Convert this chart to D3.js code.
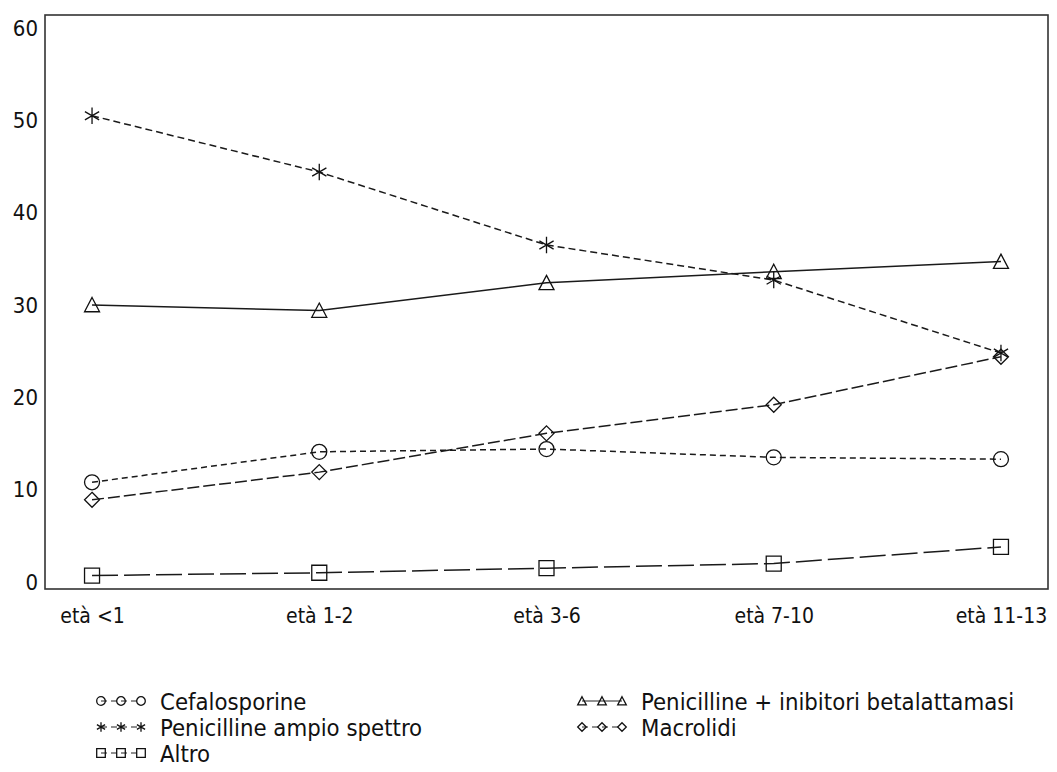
<!DOCTYPE html>
<html>
<head>
<meta charset="utf-8">
<script src="https://cdn.jsdelivr.net/npm/d3@7/dist/d3.min.js"></script>
<style>
  body { margin: 0; background: #fff; }
  text { font-family: "DejaVu Sans Condensed", "DejaVu Sans", sans-serif; font-stretch: condensed; fill: #111; }
</style>
</head>
<body>
<div id="chart"></div>
<script>
// categories and tick labels
var categories = ["età <1", "età 1-2", "età 3-6", "età 7-10", "età 11-13"];
var yTicks = [0, 10, 20, 30, 40, 50, 60];

// series values (percent)
var cefalosporine = [10.8, 14.1, 14.4, 13.5, 13.3];
var penAmpioSpettro = [50.5, 44.4, 36.5, 32.7, 24.8];
var penInibitori = [30.0, 29.4, 32.4, 33.6, 34.7];
var macrolidi = [8.9, 11.9, 16.1, 19.2, 24.4];
var altro = [0.7, 1.0, 1.5, 2.0, 3.8];

var seriesNames = ["Cefalosporine", "Penicilline + inibitori betalattamasi", "Penicilline ampio spettro", "Macrolidi", "Altro"];

// series -> style
var series = [
  { name: seriesNames[0], values: cefalosporine, symbol: "circle", dash: "6,4" },
  { name: seriesNames[1], values: penInibitori, symbol: "triangle", dash: null },
  { name: seriesNames[2], values: penAmpioSpettro, symbol: "star", dash: "7,4" },
  { name: seriesNames[3], values: macrolidi, symbol: "diamond", dash: "12,4" },
  { name: seriesNames[4], values: altro, symbol: "square", dash: "26,6" }
];

var w = 1057, h = 772;
// plot frame (window.top is reserved, so own names)
var plotL = 45, plotR = 1048, plotT = 15, plotB = 589;

var svg = d3.select("#chart").append("svg").attr("width", w).attr("height", h);

var x = d3.scalePoint().domain(categories).range([plotL, plotR]).padding(0.207);
var y = d3.scaleLinear().domain([0, 60]).range([582, 28]);

// frame
svg.append("rect")
  .attr("x", plotL).attr("y", plotT)
  .attr("width", plotR - plotL).attr("height", plotB - plotT)
  .attr("fill", "none").attr("stroke", "#333").attr("stroke-width", 1.6);

// y axis (labels only, no ticks)
var yAxis = d3.axisLeft(y).tickValues(yTicks).tickSize(0).tickPadding(7);
var gy = svg.append("g").attr("transform", "translate(" + plotL + ",0)").call(yAxis);
gy.select(".domain").remove();
gy.attr("font-family", null);
gy.selectAll("text").style("font-size", "22px").attr("fill", "#111");

// x axis
var xAxis = d3.axisBottom(x).tickSize(0).tickPadding(19);
var gx = svg.append("g").attr("transform", "translate(0," + plotB + ")").call(xAxis);
gx.select(".domain").remove();
gx.attr("font-family", null);
gx.selectAll("text").style("font-size", "21px").attr("fill", "#111");

// marker drawing
function drawMarker(g, type, cx, cy, s) {
  var m = g.append("path")
    .attr("fill", "none").attr("stroke", "#111").attr("stroke-width", 1.3);
  var d;
  if (type === "circle") {
    d = "M" + (cx - s) + "," + cy + "a" + s + "," + s + " 0 1,0 " + (2 * s) + ",0a" + s + "," + s + " 0 1,0 " + (-2 * s) + ",0";
  } else if (type === "square") {
    d = "M" + (cx - s) + "," + (cy - s) + "h" + (2 * s) + "v" + (2 * s) + "h" + (-2 * s) + "Z";
  } else if (type === "diamond") {
    d = "M" + cx + "," + (cy - s) + "L" + (cx + s) + "," + cy + "L" + cx + "," + (cy + s) + "L" + (cx - s) + "," + cy + "Z";
  } else if (type === "triangle") {
    d = "M" + cx + "," + (cy - s) + "L" + (cx + s) + "," + (cy + s * 0.9) + "L" + (cx - s) + "," + (cy + s * 0.9) + "Z";
  } else {
    var dx = s * 0.95, dy = s * 0.55;
    d = "M" + cx + "," + (cy - s * 1.1) + "V" + (cy + s * 1.1) +
        "M" + (cx - dx) + "," + (cy - dy) + "L" + (cx + dx) + "," + (cy + dy) +
        "M" + (cx - dx) + "," + (cy + dy) + "L" + (cx + dx) + "," + (cy - dy);
  }
  m.attr("d", d);
}

var line = d3.line()
  .x(function(d, i) { return x(categories[i]); })
  .y(function(d) { return y(d); });

series.forEach(function(s) {
  var g = svg.append("g");
  g.append("path")
    .datum(s.values)
    .attr("d", line)
    .attr("fill", "none")
    .attr("stroke", "#1a1a1a")
    .attr("stroke-width", 1.5)
    .attr("stroke-dasharray", s.dash);
  s.values.forEach(function(v, i) {
    drawMarker(g, s.symbol, x(categories[i]), y(v), 7.5);
  });
});

// legend
var legendPos = [
  { x: 101, y: 701 },
  { x: 582, y: 701 },
  { x: 101, y: 727 },
  { x: 582, y: 727 },
  { x: 101, y: 753 }
];

series.forEach(function(s, i) {
  var p = legendPos[i];
  var g = svg.append("g");
  g.append("line")
    .attr("x1", p.x).attr("x2", p.x + 40)
    .attr("y1", p.y).attr("y2", p.y)
    .attr("stroke", "#222").attr("stroke-width", 1.2)
    .attr("stroke-dasharray", s.dash ? "6,4" : null);
  [0, 20, 40].forEach(function(o) {
    drawMarker(g, s.symbol, p.x + o, p.y, 4.3);
  });
  g.append("text")
    .attr("x", p.x + 59).attr("y", p.y)
    .attr("dy", "0.36em")
    .style("font-size", "23.7px")
    .text(s.name);
});
</script>
</body>
</html>
